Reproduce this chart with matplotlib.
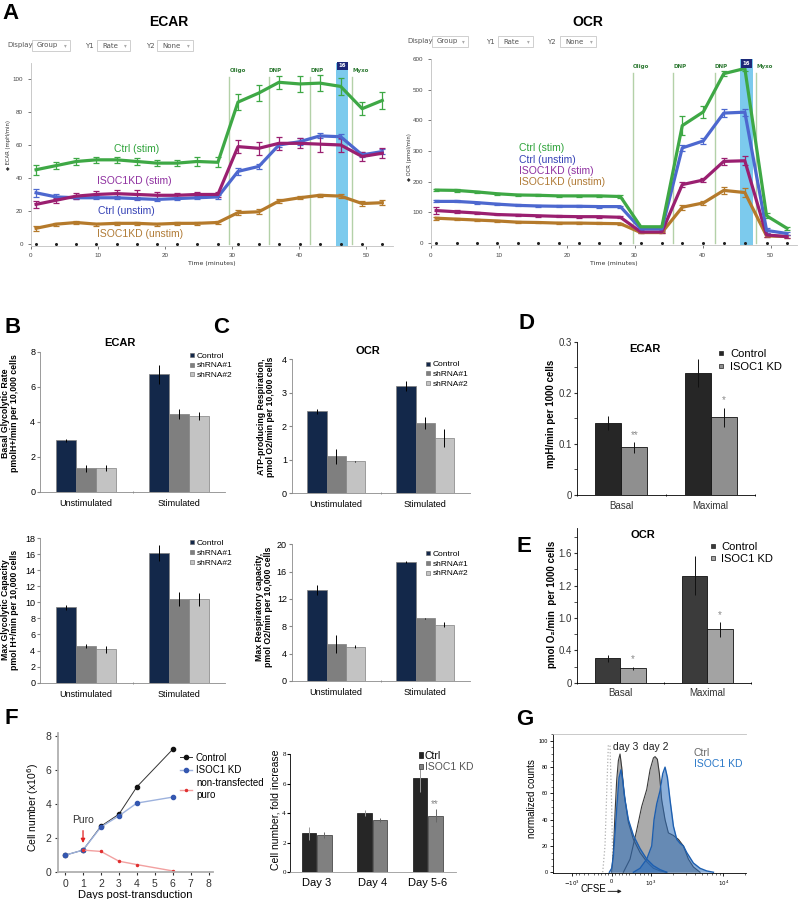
import matplotlib
matplotlib.use("Agg")
import matplotlib.pyplot as plt
import numpy as np
from matplotlib.lines import Line2D
from matplotlib.patches import Rectangle
from matplotlib.ticker import MultipleLocator, FixedLocator

plt.rcParams['font.family'] = ['Liberation Sans', 'DejaVu Sans']
plt.rcParams['axes.linewidth'] = 0.6

# ---------------- A: Seahorse traces ----------------
time_pts = [0.8, 3.8, 6.8, 9.8, 12.8, 15.8, 18.8, 21.8, 24.8, 27.9,
            30.9, 34.0, 37.0, 40.1, 43.1, 46.2, 49.4, 52.4]

ecar_ctrl_stim = [45, 47.5, 50, 51, 51, 50, 49, 49, 50, 49.5, 86, 91.5, 98, 97, 97.5, 95.5, 82, 87]
ecar_ctrl_stim_err = [3, 2, 2, 2, 2, 2, 2, 2, 3, 3, 5, 5, 4, 5, 5, 5, 4, 5]
ecar_kd_stim = [24, 26.5, 29, 30, 30.5, 30, 29.5, 29.5, 30, 30, 59, 58, 61, 61, 60.5, 60, 53, 55]
ecar_kd_stim_err = [2, 1.5, 2, 2, 2, 2.5, 2, 1.5, 1.5, 1.5, 4, 4, 4, 3, 5, 4, 3, 3]
ecar_ctrl_unstim = [31, 28.5, 28, 28, 28, 27.5, 27, 27.5, 28, 28.5, 44, 47, 60, 62, 65.5, 65, 54, 56]
ecar_ctrl_unstim_err = [2.5, 1.5, 1, 1, 1, 1, 1, 1, 1, 1, 2, 1.5, 1.5, 2, 1.5, 1.5, 1.5, 1.5]
ecar_kd_unstim = [9.5, 12, 13, 12, 12.5, 12.5, 12, 12.5, 12.5, 13, 19, 19.5, 26, 28, 29.5, 29, 24.5, 25]
ecar_kd_unstim_err = [1.5, 1, 1, 1, 1, 1, 1, 1, 1, 1, 1.5, 1.5, 1, 1, 1, 1, 1.5, 1.5]

ocr_ctrl_stim = [172, 171, 166, 160, 156, 155, 153, 153, 153, 151, 52, 52, 383, 428, 553, 570, 88, 47]
ocr_ctrl_stim_err = [4, 4, 3, 3, 3, 3, 3, 3, 3, 4, 3, 3, 30, 20, 8, 8, 8, 4]
ocr_ctrl_unstim = [135, 135, 131, 126, 122, 120, 119, 119, 118, 118, 45, 45, 310, 333, 424, 427, 40, 30]
ocr_ctrl_unstim_err = [3, 3, 3, 3, 3, 3, 3, 3, 3, 3, 3, 3, 10, 10, 12, 12, 8, 5]
ocr_kd_stim = [105, 101, 97, 92, 90, 88, 86, 85, 85, 83, 35, 35, 190, 205, 266, 268, 25, 20]
ocr_kd_stim_err = [12, 5, 4, 3, 3, 3, 3, 3, 3, 3, 3, 3, 8, 8, 12, 14, 6, 4]
ocr_kd_unstim = [80, 77, 74, 71, 67, 66, 64, 64, 63, 62, 33, 33, 116, 130, 171, 164, 22, 20]
ocr_kd_unstim_err = [5, 4, 4, 3, 3, 3, 3, 3, 3, 3, 3, 3, 8, 7, 12, 14, 5, 4]

event_names = ['Oligo', 'DNP', 'DNP', 'Myxo']
ecar_event_times = [29.6, 35.5, 41.7, 47.9]
ocr_event_times = [29.7, 35.7, 41.8, 47.9]
band = [45.5, 47.35]

# ---------------- B / C: shRNA bars ----------------
stim_groups = ['Unstimulated', 'Stimulated']
shrna_names = ['Control', 'shRNA#1', 'shRNA#2']
basal_glyco = [[2.93, 6.7], [1.35, 4.45], [1.37, 4.33]]
basal_glyco_err = [[0.07, 0.55], [0.2, 0.3], [0.18, 0.25]]
max_glyco = [[9.4, 16.1], [4.6, 10.4], [4.15, 10.4]]
max_glyco_err = [[0.3, 1.0], [0.25, 0.9], [0.4, 0.8]]
atp_resp = [[2.45, 3.2], [1.1, 2.1], [0.95, 1.65]]
atp_resp_err = [[0.07, 0.15], [0.22, 0.17], [0.02, 0.28]]
max_resp = [[13.3, 17.4], [5.4, 9.15], [5.0, 8.25]]
max_resp_err = [[0.7, 0.15], [1.3, 0.1], [0.2, 0.4]]

# ---------------- D / E ----------------
de_groups = ['Basal', 'Maximal']
kd_names = ['Control', 'ISOC1 KD']
d_ecar = [[0.141, 0.239], [0.093, 0.152]]
d_ecar_err = [[0.014, 0.028], [0.011, 0.018]]
d_stars = ['**', '*']
d_star_y = [0.118, 0.185]
e_ocr = [[0.30, 1.32], [0.178, 0.66]]
e_ocr_err = [[0.04, 0.24], [0.02, 0.09]]
e_stars = ['*', '*']
e_star_y = [0.29, 0.84]
e_tick_vals = [0, 0.4, 0.8, 1.2, 1.6]
e_tick_labels = ['0', '0.4', '1.0', '1.2', '1.6']

# ---------------- F ----------------
days = [0, 1, 2, 3, 4, 6]
growth_ctrl = [1.0, 1.3, 2.7, 3.4, 5.0, 7.2]
growth_kd = [1.0, 1.3, 2.65, 3.3, 4.05, 4.4]
puro_days = [1, 2, 3, 4, 6]
growth_puro = [1.3, 1.22, 0.65, 0.45, 0.08]

fold_days = ['Day 3', 'Day 4', 'Day 5-6']
fold_ctrl = [2.65, 4.0, 6.4]
fold_ctrl_err = [0.45, 0.2, 0.95]
fold_kd = [2.55, 3.55, 3.85]
fold_kd_err = [0.2, 0.15, 0.45]

# ---------------- G: CFSE histograms ----------------
dotted_x = [-255, -190, -142, -95, -47, 0, 28, 66]
dotted_y = [0, 20, 60, 97, 96, 50, 10, 0]
ctrl_d3_x = [0, 47, 95, 142, 190, 237, 284, 351, 474, 570, 704, 871, 1077, 1330, 1644]
ctrl_d3_y = [0, 15, 45, 70, 85, 90, 80, 60, 38, 25, 15, 8, 3, 1, 0]
kd_d3_x = [-66, 0, 47, 95, 142, 209, 265, 313, 379, 474, 570, 704, 871, 1077, 1330, 1644]
kd_d3_y = [0, 3, 12, 30, 48, 72, 78, 70, 55, 40, 28, 18, 10, 5, 2, 0]
ctrl_d2_x = [332, 512, 633, 742, 871, 968, 1077, 1135, 1222, 1303, 1403, 1560, 1734, 2037, 2387, 2798, 3280, 3846, 4753]
ctrl_d2_y = [0, 10, 32, 50, 63, 78, 87, 88, 86, 75, 55, 40, 30, 28, 25, 20, 10, 4, 0]
kd_d2_x = [570, 704, 871, 1021, 1099, 1197, 1330, 1449, 1560, 1683, 1828, 2037, 2264, 2518, 2798, 3111, 3846, 4753, 5874, 7277]
kd_d2_y = [0, 3, 10, 20, 40, 52, 62, 75, 80, 72, 55, 35, 25, 22, 20, 15, 7, 3, 1, 0]

W, H = 800, 899
fig = plt.figure(figsize=(W / 100, H / 100), dpi=100)


def add_ax(l, t, r, b):
    return fig.add_axes([l / W, 1 - b / H, (r - l) / W, (b - t) / H])


def ftext(x, y, s, **kw):
    fig.text(x / W, 1 - y / H, s, **kw)


def control_box(x0, x1, y0, y1, label):
    fig.add_artist(Rectangle((x0 / W, 1 - y1 / H), (x1 - x0) / W, (y1 - y0) / H,
                             transform=fig.transFigure, fc='white', ec='#c8c8c8', lw=0.6))
    ftext(x0 + 5, (y0 + y1) / 2, label, fontsize=5, color='#555', va='center', family='DejaVu Sans')
    ftext(x1 - 6, (y0 + y1) / 2, '▾', fontsize=4, color='#aaa', va='center', family='DejaVu Sans')


def seahorse(ax, traces, ev_times, xmax, ylim, yticks, lab_y, line_top, box_y):
    ax.axvspan(band[0], band[1], color='#7ccaed', lw=0, zorder=1)
    for t, name in zip(ev_times, event_names):
        ax.plot([t, t], [0, line_top], color='#b3d1a8', lw=1.0, zorder=1)
        ax.text(t, lab_y, name, color='#2f7a34', fontsize=4, fontweight='bold', va='center',
                family='DejaVu Sans')
    ax.text(np.mean(band), box_y, '16', color='white', fontsize=3.8, fontweight='bold', ha='center',
            va='center', family='DejaVu Sans',
            bbox=dict(boxstyle='square,pad=0.3', fc='#1d2878', ec='none'), zorder=6)
    for vals, errs, col in traces:
        ax.errorbar(time_pts, vals, yerr=errs, color=col, lw=2.3, elinewidth=0.9,
                    capsize=2, capthick=0.9, zorder=3)
    ax.plot(time_pts, np.zeros(len(time_pts)), ls='none', marker='o', ms=1.2,
            color='#222', zorder=4, clip_on=False)
    ax.set_xlim(0, xmax)
    ax.set_ylim(*ylim)
    ax.set_yticks(yticks)
    ax.set_xticks([0, 10, 20, 30, 40, 50])
    for s in ['top', 'right']:
        ax.spines[s].set_visible(False)
    for s in ['left', 'bottom']:
        ax.spines[s].set_color('#c0c0c0')
    ax.tick_params(labelsize=4.5, colors='#444', length=2, width=0.5)
    ax.set_xlabel('Time (minutes)', fontsize=4.5, color='#333', labelpad=2, family='DejaVu Sans')


# ---------------- Panel A ----------------
ftext(2, 3, 'A', fontsize=16, fontweight='bold', va='top')
ftext(169, 22, 'ECAR', fontsize=10, fontweight='bold', ha='center', va='center')
ftext(588, 22, 'OCR', fontsize=10, fontweight='bold', ha='center', va='center')

for (dx, y0, y1), boxes in [((7, 40, 51), [(32, 70, 85, 'Group', 'Display'),
                                          (97, 130, 85, 'Rate', 'Y1'),
                                          (157, 193, 146, 'None', 'Y2')]),
                            ((407, 36, 47), [(432, 468, 486, 'Group', 'Display'),
                                             (498, 533, 486, 'Rate', 'Y1'),
                                             (560, 596, 547, 'None', 'Y2')])]:
    ftext(dx, (y0 + y1) / 2, 'Display', fontsize=5, color='#555', va='center', family='DejaVu Sans')
    for i, (bx0, bx1, lx, lab, head) in enumerate(boxes):
        if i > 0:
            ftext(lx, (y0 + y1) / 2, head, fontsize=5, color='#555', va='center', family='DejaVu Sans')
        control_box(bx0, bx1, y0, y1, lab)

green, blue, purple, brown = '#3ea845', '#4d68cf', '#9a1f70', '#b57a2b'
axA1 = add_ax(30.7, 62.5, 393, 245.6)
seahorse(axA1, [(ecar_kd_unstim, ecar_kd_unstim_err, brown),
                (ecar_ctrl_unstim, ecar_ctrl_unstim_err, blue),
                (ecar_kd_stim, ecar_kd_stim_err, purple),
                (ecar_ctrl_stim, ecar_ctrl_stim_err, green)],
         ecar_event_times, 54, (-1, 110), [0, 20, 40, 60, 80, 100], 105, 101.5, 108)
axA1.text(15.8, 57.7, 'Ctrl (stim)', color='#2ea33a', fontsize=7.5, ha='center', va='center')
axA1.text(15.5, 37.9, 'ISOC1KD (stim)', color='#8e30a0', fontsize=7.5, ha='center', va='center')
axA1.text(14.3, 20.0, 'Ctrl (unstim)', color='#3340b5', fontsize=7.5, ha='center', va='center')
axA1.text(16.3, 5.9, 'ISOC1KD (unstim)', color='#b07a35', fontsize=7.5, ha='center', va='center')
ftext(9, 145, '◆ ECAR (mpH/min)', fontsize=3.8, rotation=90, ha='center', va='center',
      color='#333', family='DejaVu Sans')

axA2 = add_ax(430.7, 59.3, 796.5, 245.1)
seahorse(axA2, [(ocr_kd_unstim, ocr_kd_unstim_err, brown),
                (ocr_kd_stim, ocr_kd_stim_err, purple),
                (ocr_ctrl_unstim, ocr_ctrl_unstim_err, blue),
                (ocr_ctrl_stim, ocr_ctrl_stim_err, green)],
         ocr_event_times, 53.8, (-8, 600), [0, 100, 200, 300, 400, 500, 600], 576, 554, 586)
for txt, yv, col in [('Ctrl (stim)', 309, '#2ea33a'), ('Ctrl (unstim)', 269, '#3340b5'),
                     ('ISOC1KD (stim)', 235, '#8e30a0'), ('ISOC1KD (unstim)', 199, '#b07a35')]:
    axA2.text(13.0, yv, txt, color=col, fontsize=7.5, ha='left', va='center')
ftext(410, 157, '◆ OCR (pmol/min)', fontsize=3.8, rotation=90, ha='center', va='center',
      color='#333', family='DejaVu Sans')


# ---------------- Panels B / C ----------------
shrna_colors = ['#13284a', '#7f7f7f', '#c3c3c3']


def excel_bars(ax, values, errors, ylim, ystep, title=None, leg=(0.8, 1.0)):
    w = 0.215
    base = np.arange(len(stim_groups)) + 0.5
    for i, (vals, errs, col) in enumerate(zip(values, errors, shrna_colors)):
        ax.bar(base + (i - 1) * w, vals, w, yerr=errs, color=col, edgecolor='#808080', lw=0.5,
               error_kw=dict(ecolor='black', elinewidth=0.7, capsize=0), zorder=2)
    ax.set_xlim(0, len(stim_groups))
    ax.set_ylim(*ylim)
    ax.yaxis.set_major_locator(MultipleLocator(ystep))
    ax.set_xticks(base, stim_groups)
    ax.set_xticks([1], minor=True)
    ax.tick_params(axis='x', which='major', length=0, labelsize=6.5, pad=5)
    ax.tick_params(axis='x', which='minor', length=2, direction='inout', color='#888')
    ax.tick_params(axis='y', length=2, labelsize=6.5, color='#888', pad=1.5)
    for s in ['top', 'right']:
        ax.spines[s].set_visible(False)
    for s in ['left', 'bottom']:
        ax.spines[s].set_color('#8a8a8a')
    handles = [Line2D([], [], marker='s', ls='none', ms=2.5, mfc=c, mec='#666', mew=0.4)
               for c in shrna_colors]
    ax.legend(handles, shrna_names, loc='upper left', bbox_to_anchor=leg, frameon=False,
              fontsize=6, handlelength=0.5, handletextpad=0.3, labelspacing=0.25,
              borderaxespad=0, borderpad=0)
    if title:
        ax.set_title(title, fontsize=8, fontweight='bold', x=0.43, pad=4)


ftext(5, 317, 'B', fontsize=16, fontweight='bold', va='top')
ftext(213, 317, 'C', fontsize=16, fontweight='bold', va='top')

axB1 = add_ax(40, 351.7, 225, 491.7)
excel_bars(axB1, basal_glyco, basal_glyco_err, (0, 8), 2, 'ECAR', (0.81, 1.0))
axB2 = add_ax(40, 538, 225, 682.7)
excel_bars(axB2, max_glyco, max_glyco_err, (0, 18), 2, None, (0.81, 0.99))
axC1 = add_ax(291.7, 359.3, 469.7, 493.3)
excel_bars(axC1, atp_resp, atp_resp_err, (0, 4), 1, 'OCR', (0.755, 0.99))
axC2 = add_ax(291.7, 544.3, 469.7, 681)
excel_bars(axC2, max_resp, max_resp_err, (0, 20), 4, None, (0.755, 0.96))

ylab_kw = dict(fontsize=6.3, fontweight='bold', rotation=90, ha='center', va='center',
               linespacing=1.1)
ftext(10, 413, 'Basal Glycolytic Rate\npmolH+/min per 10,000 cells', **ylab_kw)
ftext(10, 610, 'Max Glycolytic Capacity\npmol H+/min per 10,000 cells', **ylab_kw)
ftext(266, 417, 'ATP-producing Respiration,\npmol O2/min per 10,000 cells', **ylab_kw)
ftext(264, 607, 'Max Respiratory capacity,\npmol O2/min per 10,000 cells', **ylab_kw)


# ---------------- Panels D / E ----------------
def kd_bars(ax, values, errors, colors, ylim, stars, star_y, title, leg):
    w = 0.29
    base = np.arange(len(de_groups)) + 0.5
    for i, (vals, errs, col) in enumerate(zip(values, errors, colors)):
        ax.bar(base + (i - 0.5) * w, vals, w, yerr=errs, color=col, edgecolor='#111', lw=0.6,
               error_kw=dict(ecolor='#111', elinewidth=0.7, capsize=0), zorder=2)
    for x, s, yv in zip(base + 0.5 * w, stars, star_y):
        ax.text(x, yv, s, ha='center', va='center', fontsize=7, color='#8a8a8a')
    ax.set_xlim(0, len(de_groups))
    ax.set_ylim(*ylim)
    ax.set_xticks(base, de_groups)
    ax.set_xticks([0, 1, 2], minor=True)
    ax.tick_params(axis='x', which='major', length=0, labelsize=7, pad=4, colors='#333')
    ax.tick_params(axis='x', which='minor', length=2, direction='inout')
    ax.tick_params(axis='y', which='both', length=2, labelsize=7, pad=1.5, colors='#333')
    for s in ['top', 'right']:
        ax.spines[s].set_visible(False)
    handles = [Line2D([], [], marker='s', ls='none', ms=3.5, mfc=c, mec='#222', mew=0.5)
               for c in colors]
    ax.legend(handles, kd_names, loc='upper left', bbox_to_anchor=leg, frameon=False,
              fontsize=8, handlelength=0.6, handletextpad=0.5, labelspacing=0.2,
              borderaxespad=0, borderpad=0)
    ax.text(0.38, 0.985, title, transform=ax.transAxes, fontsize=8, fontweight='bold',
            ha='center', va='top')


ftext(518, 313, 'D', fontsize=16, fontweight='bold', va='top')
axD = add_ax(576.7, 341.7, 755.3, 495)
kd_bars(axD, d_ecar, d_ecar_err, ['#262626', '#8f8f8f'], (0, 0.3), d_stars, d_star_y, 'ECAR',
        (0.79, 0.95))
axD.set_yticks([0, 0.1, 0.2, 0.3], ['0', '0.1', '0.2', '0.3'])
axD.yaxis.set_minor_locator(MultipleLocator(0.05))
ftext(551, 414, 'mpH/min per 1000 cells', fontsize=7, fontweight='bold', rotation=90,
      ha='center', va='center')

ftext(516, 536, 'E', fontsize=16, fontweight='bold', va='top')
axE = add_ax(576.7, 528, 751, 682.7)
kd_bars(axE, e_ocr, e_ocr_err, ['#3b3b3b', '#a3a3a3'], (0, 1.91), e_stars, e_star_y, 'OCR',
        (0.76, 0.91))
axE.set_yticks(e_tick_vals, e_tick_labels)
axE.yaxis.set_minor_locator(MultipleLocator(0.2))
ftext(552, 604, 'pmol O₂/min  per 1000 cells', fontsize=7, fontweight='bold', rotation=90,
      ha='center', va='center')

# ---------------- Panel F ----------------
ftext(5, 708, 'F', fontsize=16, fontweight='bold', va='top')
axF1 = add_ax(57.7, 733, 213, 872.3)
axF1.plot(days, growth_ctrl, color='#333', lw=0.7, marker='o', ms=3, mfc='#111', mec='#111',
          label='Control')
axF1.plot(days, growth_kd, color='#9db2dd', lw=1.0, marker='o', ms=3, mfc='#3457b0', mec='#3457b0',
          label='ISOC1 KD')
axF1.plot(puro_days, growth_puro, color='#f2a0a0', lw=1.0, marker='o', ms=1.5, mfc='#e03030',
          mec='#e03030', label='non-transfected\npuro')
axF1.annotate('', xy=(1, 1.55), xytext=(1, 2.6),
              arrowprops=dict(arrowstyle='-|>', color='#e02020', lw=0.9, mutation_scale=6))
axF1.text(1, 3.05, 'Puro', ha='center', va='center', fontsize=7.5, color='#333')
axF1.set_xlim(-0.41, 8.24)
axF1.set_ylim(0, 8.15)
axF1.set_xticks(range(9))
axF1.set_yticks([0, 2, 4, 6, 8])
for s in ['top', 'right']:
    axF1.spines[s].set_visible(False)
for s in ['left', 'bottom']:
    axF1.spines[s].set_color('#b0b0b0')
    axF1.spines[s].set_linewidth(1.3)
axF1.tick_params(labelsize=7.5, length=2.5, colors='#333', pad=2)
axF1.set_xlabel('Days post-transduction', fontsize=8, labelpad=1)
axF1.legend(loc='upper left', bbox_to_anchor=(0.79, 0.86), frameon=False, fontsize=7,
            handlelength=1.2, handletextpad=0.4, labelspacing=0.3, borderaxespad=0, borderpad=0)
ftext(33, 808, 'Cell number (x10$^6$)', fontsize=7.5, rotation=90, ha='center', va='center')

axF2 = add_ax(290, 754.3, 455.7, 872.3)
fx = np.arange(len(fold_days))
fw = 0.26
axF2.bar(fx - fw / 2 - 0.01, fold_ctrl, fw, yerr=fold_ctrl_err, color='#262626', edgecolor='#111',
         lw=0.5, error_kw=dict(ecolor='#999', elinewidth=0.7, capsize=0), label='Ctrl')
axF2.bar(fx + fw / 2 + 0.01, fold_kd, fw, yerr=fold_kd_err, color='#808080', edgecolor='#333',
         lw=0.5, error_kw=dict(ecolor='#666', elinewidth=0.7, capsize=0), label='ISOC1 KD')
axF2.text(2 + fw / 2, 4.6, '**', ha='center', va='center', fontsize=7, color='#888')
axF2.set_xlim(-0.48, 2.5)
axF2.set_ylim(0, 8)
axF2.set_yticks([0, 2, 4, 6, 8])
axF2.set_xticks(fx, fold_days)
axF2.tick_params(axis='x', length=0, labelsize=8, pad=4)
axF2.tick_params(axis='y', length=2, labelsize=5, pad=1)
for lab in axF2.get_yticklabels():
    lab.set_family('Liberation Serif')
for s in ['top', 'right']:
    axF2.spines[s].set_visible(False)
axF2.spines['bottom'].set_color('#999')
lg = axF2.legend(loc='upper left', bbox_to_anchor=(0.78, 1.03), frameon=False, fontsize=7.5,
                 handlelength=0.4, handleheight=0.4, handletextpad=0.15, labelspacing=0.15,
                 borderaxespad=0, borderpad=0)
lg.get_texts()[1].set_color('#555')
ftext(276, 810, 'Cell number, fold increase', fontsize=7.5, rotation=90, ha='center', va='center')

# ---------------- Panel G ----------------
ftext(516, 709, 'G', fontsize=16, fontweight='bold', va='top')
axG = add_ax(553.3, 734.3, 746, 873.3)
axG.set_xscale('symlog', linthresh=500, linscale=0.219)
axG.plot(dotted_x, dotted_y, color='#b0b0b0', ls=':', lw=0.9, zorder=2)
for xs, ys in [(ctrl_d3_x, ctrl_d3_y), (ctrl_d2_x, ctrl_d2_y)]:
    axG.fill_between(xs, ys, 0, color='#ababab', lw=0, zorder=3)
    axG.plot(xs, ys, color='#3a3a3a', lw=0.8, zorder=4)
for xs, ys in [(kd_d3_x, kd_d3_y), (kd_d2_x, kd_d2_y)]:
    axG.fill_between(xs, ys, 0, color='#2e6fbd', alpha=0.55, lw=0, zorder=5)
    axG.plot(xs, ys, color='#1d5fb0', lw=1.0, zorder=6)
axG.text(28, 95, 'day 3', fontsize=7.5, ha='left', va='center', color='#222')
axG.text(767, 95, 'day 2', fontsize=7.5, ha='left', va='center', color='#222')
axG.text(3900, 91, 'Ctrl', fontsize=7.5, ha='left', va='center', color='#666')
axG.text(3900, 82.5, 'ISOC1 KD', fontsize=7.5, ha='left', va='center', color='#2a78c8')
axG.set_xlim(-1830, 20500)
axG.set_ylim(-0.8, 105)
axG.xaxis.set_major_locator(FixedLocator([-1000, 0, 1000, 10000]))
axG.set_xticklabels([r'$-10^3$', '0', r'$10^3$', r'$10^4$'])
axG.xaxis.set_minor_locator(FixedLocator(list(range(-900, 901, 100)) +
                                         list(range(2000, 10000, 1000)) + [20000]))
axG.set_yticks([0, 20, 40, 60, 80, 100])
axG.yaxis.set_minor_locator(MultipleLocator(5))
axG.tick_params(which='major', labelsize=4, length=2.5, width=0.6, pad=1.5)
axG.tick_params(which='minor', length=1.5, width=0.4)
axG.spines['right'].set_visible(False)
axG.spines['top'].set_color('#c0c0c0')
axG.text(0.14, -0.115, 'CFSE', transform=axG.transAxes, fontsize=7, ha='left', va='center')
axG.annotate('', xy=(0.37, -0.13), xytext=(0.27, -0.13), xycoords='axes fraction',
             arrowprops=dict(arrowstyle='-|>', color='#222', lw=0.7, mutation_scale=5))
ftext(531.7, 799, 'normalized counts', fontsize=7, rotation=90, ha='center', va='center')

fig.savefig('out.png', dpi=100)
